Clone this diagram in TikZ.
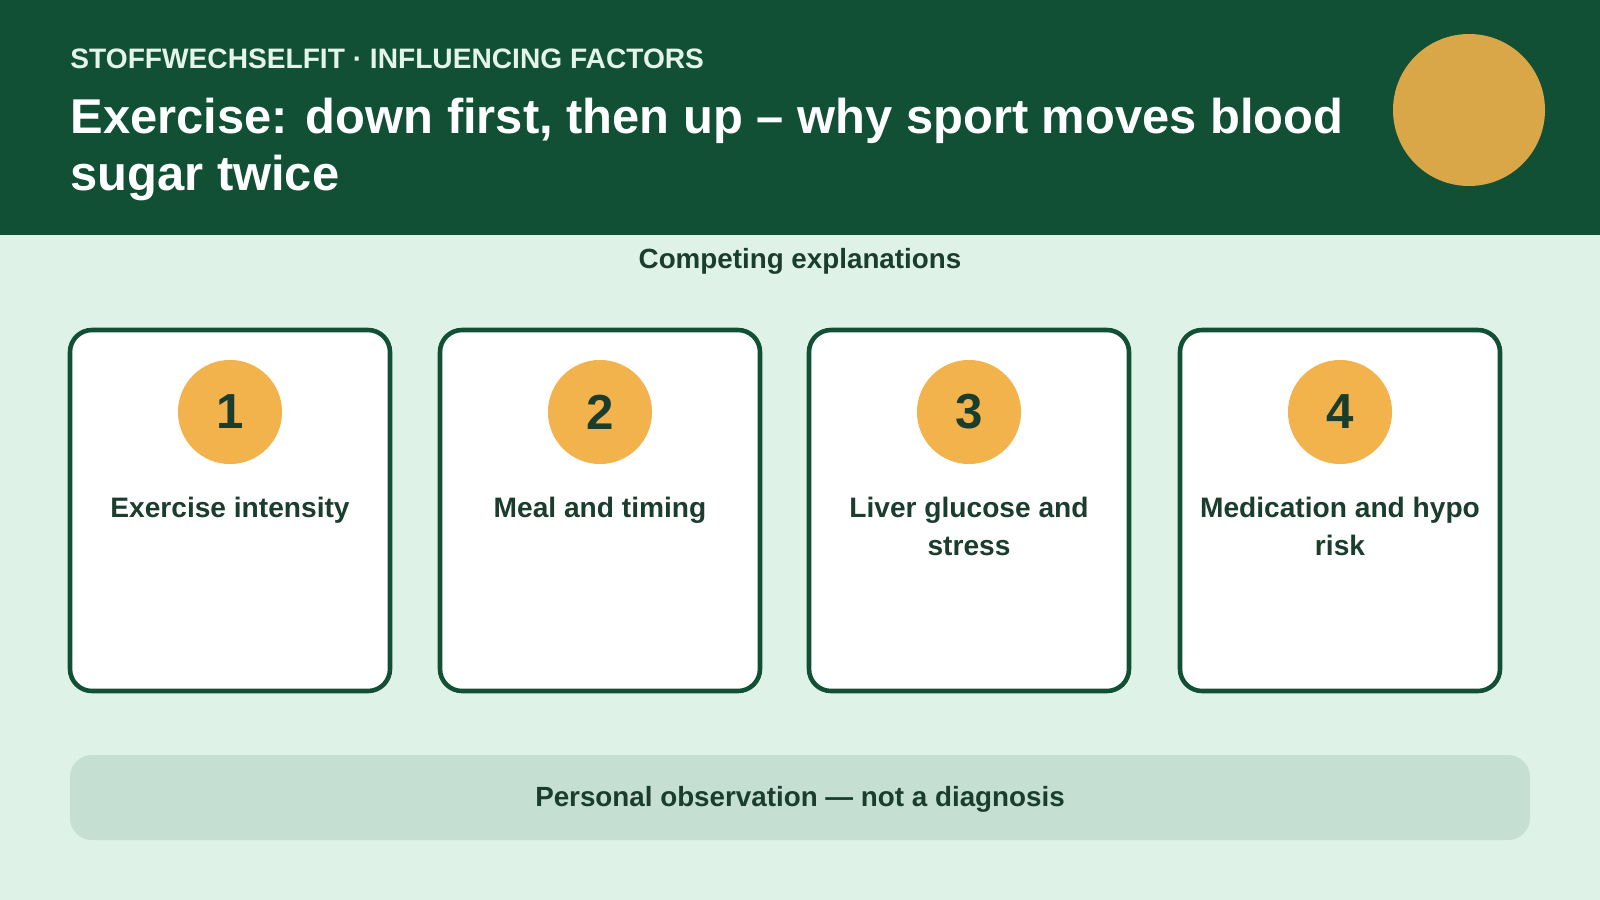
\documentclass[tikz,border=0pt]{standalone}
\usepackage{fontspec}
\setmainfont{Liberation Sans}
\definecolor{dgreen}{HTML}{115034}
\definecolor{mint}{HTML}{DFF2E7}
\definecolor{gold}{HTML}{DAA748}
\definecolor{orng}{HTML}{F2B24C}
\definecolor{ink}{HTML}{1B3D2D}
\definecolor{bar}{HTML}{C5DFD2}
\tikzset{
  card/.style={draw=dgreen, line width=1.3pt, fill=white, rounded corners=2.2mm},
  badge/.style={circle, fill=orng, minimum size=1.04cm, inner sep=0pt, font=\bfseries\fontsize{14}{16}\selectfont, text=ink},
  lbl/.style={font=\bfseries\fontsize{8}{10.6}\selectfont, text=ink, align=center, anchor=north}
}
\begin{document}
\begin{tikzpicture}[x=0.01cm,y=-0.01cm]
\useasboundingbox (0,0) rectangle (1600,900);
\fill[mint] (0,0) rectangle (1600,900);
\fill[dgreen] (0,0) rectangle (1600,235);
\fill[gold] (1469,110) circle[radius=76];
\node[anchor=west, text=mint!85!white, font=\bfseries\fontsize{8}{10}\selectfont] (kicker) at (58,59) {STOFFWECHSELFIT · INFLUENCING FACTORS};
\node[anchor=north west, text=white, align=left, font=\bfseries\fontsize{13.9}{16}\selectfont] (title) at (58,86) {Exercise: down first, then up – why sport moves blood\\sugar twice};
\node[font=\bfseries\fontsize{7.9}{10}\selectfont, text=ink] (heading) at (800,261) {Competing explanations};
\foreach \i/\cx/\txt in {1/230/Exercise intensity, 2/600/Meal and timing, 3/969/Liver glucose and\\stress, 4/1340/Medication and hypo\\risk}{
  \draw[card] (\cx-160,330) rectangle (\cx+160,691);
  \node[badge] (b\i) at (\cx,412) {\i};
  \node[lbl] (l\i) at (\cx,485) {\txt};
}
\fill[bar, rounded corners=2.2mm] (70,755) rectangle (1530,840);
\node[font=\bfseries\fontsize{7.9}{10}\selectfont, text=ink] (note) at (800,799) {Personal observation — not a diagnosis};
\end{tikzpicture}
\end{document}
